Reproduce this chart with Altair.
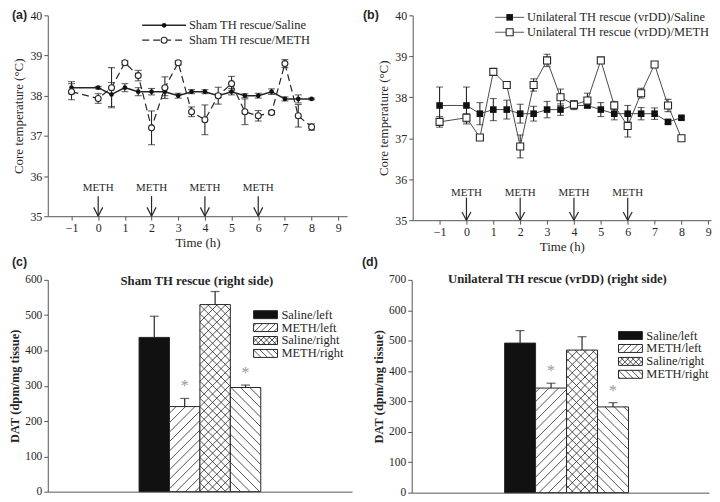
import math
import altair as alt
import pandas as pd

# ---------------- data ----------------
time_h = [-1, 0, 0.5, 1, 1.5, 2, 2.5, 3, 3.5, 4, 4.5, 5, 5.5, 6, 6.5, 7, 7.5, 8]

a_saline = [38.2, 38.2, 38.03, 38.2, 38.1, 38.1, 38.1, 38.0, 38.1, 38.1, 38.0, 38.1, 38.0, 38.0, 38.1, 37.92, 37.92, 37.92]
a_saline_err = [0.15, 0.03, 0.3, 0.1, 0.1, 0.08, 0.1, 0.06, 0.05, 0.05, 0.05, 0.08, 0.05, 0.06, 0.07, 0.05, 0.1, 0.02]
a_meth = [38.1, 37.93, 38.2, 38.82, 38.5, 37.2, 38.2, 38.82, 37.6, 37.4, 38.0, 38.3, 37.6, 37.5, 37.58, 38.8, 37.5, 37.22]
a_meth_err = [0.2, 0.12, 0.5, 0.05, 0.13, 0.42, 0.27, 0.05, 0.12, 0.37, 0.21, 0.18, 0.32, 0.13, 0.05, 0.1, 0.28, 0.08]

b_saline = [37.8, 37.8, 37.6, 37.7, 37.7, 37.6, 37.6, 37.7, 37.7, 37.8, 37.8, 37.7, 37.6, 37.6, 37.6, 37.6, 37.4, 37.5]
b_saline_err = [0.45, 0.45, 0.27, 0.27, 0.23, 0.23, 0.18, 0.2, 0.14, 0.1, 0.05, 0.17, 0.15, 0.2, 0.15, 0.14, 0.05, 0.03]
b_meth = [37.4, 37.5, 37.02, 38.62, 38.3, 36.8, 38.3, 38.9, 38.0, 37.82, 37.92, 38.9, 37.8, 37.3, 38.1, 38.8, 37.8, 37.0]
b_meth_err = [0.13, 0.1, 0.05, 0.07, 0.05, 0.28, 0.15, 0.15, 0.2, 0.1, 0.18, 0.05, 0.1, 0.27, 0.12, 0.05, 0.15, 0.03]

meth_times = [0, 2, 4, 6]
meth_label = "METH"

a_names = ["Sham TH rescue/Saline", "Sham TH rescue/METH"]
b_names = ["Unilateral TH rescue (vrDD)/Saline", "Unilateral TH rescue (vrDD)/METH"]

bar_groups = ["Saline/left", "METH/left", "Saline/right", "METH/right"]
c_title = "Sham TH rescue (right side)"
c_vals = [437, 241, 530, 295]
c_err = [60, 23, 37, 7]
c_star = [False, True, False, True]
d_title = "Unilateral TH rescue (vrDD) (right side)"
d_vals = [492, 344, 469, 282]
d_err = [41, 16, 44, 14]
d_star = [False, True, False, True]

# ---------------- style ----------------
SERIF = "Liberation Serif"
SANS = "Liberation Sans"
INK = "#262626"
AX = "#555555"
PATTERNS = ["solid", "/", "x", "\\"]
LAB = 12
LEG = 12.5


def hatch(x0, x1, y0, y1, kind, s):
    """segments in pixel space (y down) clipped to rectangle"""
    segs = []
    if kind in ("/", "x"):
        c = math.floor((x0 + y0) / s) * s
        while c <= x1 + y1:
            lo, hi = max(x0, c - y1), min(x1, c - y0)
            if hi - lo > 0.4:
                segs.append((lo, c - lo, hi, c - hi))
            c += s
    if kind in ("\\", "x"):
        c = math.floor((x0 - y1) / s) * s
        while c <= x1 - y0:
            lo, hi = max(x0, c + y0), min(x1, c + y1)
            if hi - lo > 0.4:
                segs.append((lo, lo - c, hi, hi - c))
            c += s
    return segs


def tag_layer(label, dx, dy):
    return alt.Chart(pd.DataFrame({"t": [label]})).mark_text(
        font=SANS, fontWeight="bold", fontSize=12.5, align="left", baseline="middle", color=INK
    ).encode(x=alt.value(dx), y=alt.value(dy), text="t:N")


# ---------------- line panels ----------------
def line_panel(tag, names, sal, sal_e, meth, meth_e, W, H, xdom, square, dashed,
               leg_x0, leg_x1, leg_y, tag_dx, txt_y, arr_top, head_y):
    sx = W / (xdom[1] - xdom[0])

    def X(f):
        return alt.X(f, type="quantitative",
                     scale=alt.Scale(domain=xdom, nice=False, zero=False),
                     axis=alt.Axis(values=list(range(-1, 10)), title="Time (h)", grid=False,
                                   labelFont=SERIF, labelFontSize=LAB, labelColor=INK,
                                   titleFont=SERIF, titleFontSize=13, titleFontWeight="normal",
                                   titleColor=INK, titlePadding=3, tickSize=4, labelPadding=2,
                                   domainColor=AX, tickColor=AX))

    def Y(f):
        return alt.Y(f, type="quantitative",
                     scale=alt.Scale(domain=[35, 40], nice=False, zero=False),
                     axis=alt.Axis(values=[35, 36, 37, 38, 39, 40], title="Core temperature (°C)",
                                   grid=False, labelFont=SERIF, labelFontSize=LAB, labelColor=INK,
                                   titleFont=SERIF, titleFontSize=13, titleFontWeight="normal",
                                   titleColor=INK, titlePadding=4, tickSize=4, labelPadding=2,
                                   domainColor=AX, tickColor=AX))

    rows = []
    for s, vals, errs in (("sal", sal, sal_e), ("meth", meth, meth_e)):
        for t, v, e in zip(time_h, vals, errs):
            rows.append({"t": t, "v": v, "lo": v - e, "hi": v + e, "s": s})
    df = pd.DataFrame(rows)
    base = alt.Chart(df)
    sw = 1.0 if square else 1.5

    err = base.mark_rule(color=INK, strokeWidth=1.1).encode(x=X("t"), y=Y("lo"), y2="hi")
    cap_lo = base.mark_tick(orient="horizontal", size=7, thickness=1.1, color=INK).encode(x=X("t"), y=Y("lo"))
    cap_hi = base.mark_tick(orient="horizontal", size=7, thickness=1.1, color=INK).encode(x=X("t"), y=Y("hi"))

    sal_df = df[df.s == "sal"]
    meth_df = df[df.s == "meth"]
    line_color = "#4a4a4a" if square else INK
    l_sal = alt.Chart(sal_df).mark_line(color=line_color, strokeWidth=sw).encode(x=X("t"), y=Y("v"))
    if dashed:
        l_meth = alt.Chart(meth_df).mark_line(color=line_color, strokeWidth=1.2, strokeDash=[7, 4]).encode(x=X("t"), y=Y("v"))
    else:
        l_meth = alt.Chart(meth_df).mark_line(color=line_color, strokeWidth=1.0).encode(x=X("t"), y=Y("v"))

    shape = "square" if square else "circle"
    s_fill = 44 if square else 22
    s_open = 50 if square else 36
    p_sal = alt.Chart(sal_df).mark_point(shape=shape, filled=True, size=s_fill, color="#111111", opacity=1).encode(x=X("t"), y=Y("v"))
    p_meth = alt.Chart(meth_df).mark_point(shape=shape, filled=True, size=s_open, fill="white", stroke=INK,
                                           strokeWidth=1.1, opacity=1).encode(x=X("t"), y=Y("v"))

    # METH injection arrows
    dx = 4.5 / sx
    arr = pd.DataFrame({"t": meth_times, "lab": [meth_label] * len(meth_times)})
    arr["tl"] = arr.t - dx
    arr["tr"] = arr.t + dx
    arr["ytxt"] = txt_y
    arr["ytop"] = arr_top
    arr["yhead"] = head_y
    arr["ybot"] = 35.0
    ab = alt.Chart(arr)
    a_txt = ab.mark_text(font=SERIF, fontSize=11, color=INK, baseline="middle").encode(x=X("t"), y=Y("ytxt"), text="lab:N")
    a_shaft = ab.mark_rule(color=INK, strokeWidth=1.2).encode(x=X("t"), y=Y("ytop"), y2="ybot")
    a_l = ab.mark_rule(color=INK, strokeWidth=1.2).encode(x=X("tl"), x2="t", y=Y("yhead"), y2="ybot")
    a_r = ab.mark_rule(color=INK, strokeWidth=1.2).encode(x=X("tr"), x2="t", y=Y("yhead"), y2="ybot")

    # legend
    leg = []
    for i, name in enumerate(names):
        py = leg_y[i]
        one = alt.Chart(pd.DataFrame({"t": [name]}))
        dash = [7, 4] if (dashed and i == 1) else [1, 0]
        leg.append(one.mark_rule(color=line_color, strokeWidth=sw if i == 0 else (1.2 if dashed else 1.0), strokeDash=dash)
                   .encode(x=alt.value(leg_x0), x2=alt.value(leg_x1), y=alt.value(py)))
        if i == 0:
            leg.append(one.mark_point(shape=shape, filled=True, size=s_fill, color="#111111", opacity=1)
                       .encode(x=alt.value((leg_x0 + leg_x1) / 2), y=alt.value(py)))
        else:
            leg.append(one.mark_point(shape=shape, filled=True, size=s_open, fill="white", stroke=INK, strokeWidth=1.1, opacity=1)
                       .encode(x=alt.value((leg_x0 + leg_x1) / 2), y=alt.value(py)))
        leg.append(one.mark_text(font=SERIF, fontSize=LEG, align="left", baseline="middle", color=INK)
                   .encode(x=alt.value(leg_x1 + 3), y=alt.value(py), text="t:N"))

    return alt.layer(err, cap_lo, cap_hi, l_sal, l_meth, p_sal, p_meth,
                     a_shaft, a_l, a_r, a_txt, *leg, tag_layer(tag, tag_dx, 0)).properties(width=W, height=H)


# ---------------- bar panels ----------------
def bar_panel(tag, title, vals, errs, stars, W, H, xdom, ymax, leg_x, leg_y0, leg_dy, title_y, tag_dx, tag_y):
    sx = W / (xdom[1] - xdom[0])
    sy = H / ymax

    def X(f):
        return alt.X(f, type="quantitative", scale=alt.Scale(domain=xdom, nice=False, zero=False),
                     axis=alt.Axis(labels=False, ticks=False, title=None, grid=False, domainColor=AX))

    def Y(f):
        return alt.Y(f, type="quantitative", scale=alt.Scale(domain=[0, ymax], nice=False),
                     axis=alt.Axis(values=list(range(0, ymax + 1, 100)), title="DAT (dpm/mg tissue)",
                                   grid=False, labelFont=SERIF, labelFontSize=11.5, labelColor=INK,
                                   titleFont=SERIF, titleFontSize=12.5, titleFontWeight="bold",
                                   titleColor=INK, titlePadding=3, tickSize=4, labelPadding=2,
                                   domainColor=AX, tickColor=AX))

    def to_px(x, y):
        return (x - xdom[0]) * sx, H - y * sy

    def to_data(px, py):
        return xdom[0] + px / sx, (H - py) / sy

    rects, segs = [], []
    for i, (g, v) in enumerate(zip(bar_groups, vals)):
        x0, x1 = 3 + i, 4 + i
        kind = PATTERNS[i]
        rects.append({"x0": x0, "x1": x1, "y0": 0, "y1": v, "fill": "#111111" if kind == "solid" else "white"})
        if kind != "solid":
            p0x, p0y = to_px(x0, v)
            p1x, p1y = to_px(x1, 0)
            sp = 8.5 if kind == "x" else 9.5
            for (ax_, ay_, bx_, by_) in hatch(p0x, p1x, p0y, p1y, kind, sp):
                dx0, dy0 = to_data(ax_, ay_)
                dx1, dy1 = to_data(bx_, by_)
                segs.append({"hx0": dx0, "hy0": dy0, "hx1": dx1, "hy1": dy1})
        # legend swatch
        ly = leg_y0 + i * leg_dy
        lx0, ly0 = to_data(leg_x, ly - 4)
        lx1, ly1 = to_data(leg_x + 24, ly + 4)
        rects.append({"x0": lx0, "x1": lx1, "y0": ly1, "y1": ly0, "fill": "#111111" if kind == "solid" else "white"})
        if kind != "solid":
            sp = 5.5 if kind == "x" else 6.5
            for (ax_, ay_, bx_, by_) in hatch(leg_x, leg_x + 24, ly - 4, ly + 4, kind, sp):
                dx0, dy0 = to_data(ax_, ay_)
                dx1, dy1 = to_data(bx_, by_)
                segs.append({"hx0": dx0, "hy0": dy0, "hx1": dx1, "hy1": dy1})

    rdf = pd.DataFrame(rects)
    sdf = pd.DataFrame(segs)
    bars = alt.Chart(rdf).mark_rect(stroke=INK, strokeWidth=1).encode(
        x=X("x0"), x2="x1", y=Y("y0"), y2="y1", fill=alt.Fill("fill:N", scale=None))
    hl = alt.Chart(sdf).mark_rule(color=INK, strokeWidth=0.8).encode(x=X("hx0"), x2="hx1", y=Y("hy0"), y2="hy1")

    edf = pd.DataFrame({"xc": [3.5 + i for i in range(4)], "v": vals,
                        "hi": [v + e for v, e in zip(vals, errs)], "star": stars})
    eb = alt.Chart(edf)
    e_rule = eb.mark_rule(color=INK, strokeWidth=1.2).encode(x=X("xc"), y=Y("v"), y2="hi")
    e_cap = eb.mark_tick(orient="horizontal", size=9, thickness=1.2, color=INK).encode(x=X("xc"), y=Y("hi"))
    st = alt.Chart(edf[edf.star]).transform_calculate(s="'*'").mark_text(
        font=SERIF, fontSize=16, color="#999999", baseline="middle", dy=-12).encode(x=X("xc"), y=Y("hi"), text="s:N")

    ttl = alt.Chart(pd.DataFrame({"t": [title]})).mark_text(
        font=SERIF, fontSize=12.8, fontWeight="bold", color=INK, baseline="middle").encode(
        x=alt.value(W / 2 - 3), y=alt.value(title_y), text="t:N")

    leg = []
    for i, g in enumerate(bar_groups):
        leg.append(alt.Chart(pd.DataFrame({"t": [g]})).mark_text(
            font=SERIF, fontSize=LEG, align="left", baseline="middle", color=INK).encode(
            x=alt.value(leg_x + 28), y=alt.value(leg_y0 + i * leg_dy), text="t:N"))

    return alt.layer(bars, hl, e_rule, e_cap, st, ttl, *leg, tag_layer(tag, tag_dx, tag_y)).properties(width=W, height=H)


A = line_panel("(a)", a_names, a_saline, a_saline_err, a_meth, a_meth_err, 301, 202, [-1.89, 9.33],
               square=False, dashed=True, leg_x0=95, leg_x1=139, leg_y=[10, 25], tag_dx=-36,
               txt_y=35.7, arr_top=35.5, head_y=35.22)
B = line_panel("(b)", b_names, b_saline, b_saline_err, b_meth, b_meth_err, 300, 206, [-2.0, 9.1],
               square=True, dashed=False, leg_x0=83, leg_x1=112, leg_y=[2, 17], tag_dx=-50,
               txt_y=35.67, arr_top=35.55, head_y=35.2)
C = bar_panel("(c)", c_title, c_vals, c_err, c_star, 306, 213, [0, 10], 600,
              leg_x=207, leg_y0=35, leg_dy=13, title_y=1, tag_dx=-36, tag_y=-18)
D = bar_panel("(d)", d_title, d_vals, d_err, d_star, 299, 214, [0, 9.6], 700,
              leg_x=208, leg_y0=56, leg_dy=13, title_y=-1, tag_dx=-50, tag_y=-18)

chart = alt.vconcat(
    alt.hconcat(A, B, spacing=16),
    alt.hconcat(C, D, spacing=10),
    spacing=3,
).properties(padding={"left": 0, "top": 0, "right": 0, "bottom": 0}).configure(padding=0).configure_view(stroke=None)

chart.save("out.html", embed_options={"renderer": "svg", "actions": False})
